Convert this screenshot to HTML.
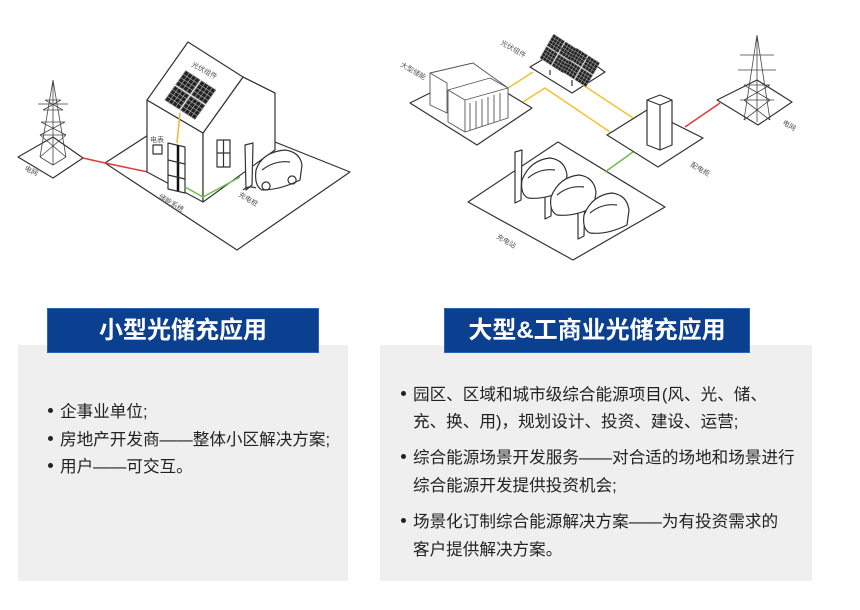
<!DOCTYPE html>
<html><head><meta charset="utf-8"><style>
body{margin:0;width:860px;height:610px;background:#fff;font-family:"Liberation Sans","Noto Sans CJK SC",sans-serif;position:relative;overflow:hidden}
.gray{position:absolute;background:#efeff0}
.title{position:absolute;background:#0b3f8f;color:#fff;font-weight:bold;font-size:24px;text-align:center;line-height:44px;border:1px solid #2a63b8;box-sizing:border-box;white-space:nowrap}
.li{position:absolute;font-size:16.6px;color:#222;white-space:nowrap}
.li:before{content:"";position:absolute;left:-12px;top:10px;width:5px;height:5px;border-radius:50%;background:#222}
.ln{position:absolute;font-size:16.6px;color:#222;white-space:nowrap}
svg{position:absolute;left:0;top:0}
</style></head><body>
<svg width="860" height="300" viewBox="0 0 860 300" fill="none" stroke="#333" stroke-width="1.2" stroke-linejoin="round">
<defs>
<g id="mod"><rect width="20" height="20" fill="#222" stroke="#777" stroke-width="1"/><path d="M5,0V20M10,0V20M15,0V20M0,5H20M0,10H20M0,15H20" stroke="#bbb" stroke-width="0.7"/></g>
</defs>
<!-- LEFT SCENE -->
<polygon points="105,163 190,108 350,172 237,250" fill="#fff"/>
<polygon points="18,157 53,137 83,158 53,178" fill="#fff"/>
<g stroke="#444" stroke-width="0.8">
<path d="M53,80 L40,157 M53,80 L66,157 M45,100 L61,100 M43,110 L63,110 M41,122 L65,122 M40,135 L66,135 M45,100 L63,110 M61,100 L43,110 M41,122 L66,135 M65,122 L40,135 M40,135 L66,157 M66,135 L40,157 M40,157 L53,165 L66,157 M53,80 L53,165 M38,104 L68,104"/>
</g>
<path d="M83,158 L105,163 L148,172 L153,170 L153,153 L160,153" stroke="#e03a3a" stroke-width="1.5"/>
<!-- house -->
<polygon points="147,100 203,133 203,202 147,172" fill="#fff"/>
<polygon points="203,133 243,77 275,93 275,150 203,202" fill="#fff"/>
<polygon points="147,100 188,42 243,77 203,133" fill="#fff"/>
<path d="M243,77 L275,93"/>
<g transform="matrix(0.84,0.54,0.58,-0.82,165,100) scale(0.85)">
<use href="#mod" x="0" y="0"/><use href="#mod" x="22" y="0"/><use href="#mod" x="0" y="22"/><use href="#mod" x="22" y="22"/>
</g>
<path d="M180,113 L177,143" stroke="#f2b632" stroke-width="1.5"/>
<rect x="153" y="145" width="9" height="9" fill="#fff"/>
<polygon points="168,143 185,147 185,193 168,189" fill="#fff"/>
<path d="M178,145 L178,191" stroke="#111" stroke-width="2.5"/>
<path d="M168,160 L185,164 M168,175 L185,179"/>
<path d="M185,187 L203,197 L240,177" stroke="#6cc04a" stroke-width="1.5"/>
<rect x="217" y="140" width="13" height="27" fill="#fff"/>
<path d="M223.5,140 V167 M217,153 H230"/>
<path d="M245,145 L253,143 L252,185 L246,190 Z" fill="#fff"/>
<path d="M243,190 Q248,185 256,188"/>
<path d="M256,170 Q262,152 285,150 Q300,152 302,165 L300,180 Q280,190 262,190 Q254,186 256,170 Z" fill="#fff"/>
<path d="M262,170 Q275,160 290,162 M266,182 a4,4 0 1 0 0.1,0 M292,176 a4,4 0 1 0 0.1,0"/>
<g font-size="7" fill="#555" stroke="none" font-family="Liberation Sans,Noto Sans CJK SC,sans-serif">
<text x="191" y="66" transform="rotate(28 191 66)">光伏组件</text>
<text x="150" y="142">电表</text>
<text x="24" y="170" transform="rotate(25 24 170)">电网</text>
<text x="158" y="198" transform="rotate(30 158 198)">储能系统</text>
<text x="238" y="196" transform="rotate(30 238 196)">充电桩</text>
</g>
<!-- RIGHT SCENE -->
<polygon points="410,103 472,72 532,108 477,145" fill="#fff"/>
<polygon points="530,67 567,45 605,72 572,93" fill="#fff"/>
<polygon points="607,135 647,110 703,138 658,167" fill="#fff"/>
<polygon points="717,100 757,80 792,102 758,125" fill="#fff"/>
<polygon points="468,202 558,142 665,207 573,260" fill="#fff"/>
<path d="M508,88 L533,72 M523,102 L545,88 L610,132 M583,85 L633,118" stroke="#f2c232" stroke-width="1.5"/>
<path d="M685,127 L720,103" stroke="#e03a3a" stroke-width="1.5"/>
<path d="M605,172 L633,152" stroke="#6cc04a" stroke-width="1.5"/>
<!-- containers -->
<g fill="#fff" stroke="#555" stroke-width="0.9">
<polygon points="430,73 473,63 508,88 508,100 447,113 430,105"/>
<polygon points="448,90 490,78 508,88 508,118 465,132 448,122"/>
<path d="M448,90 L465,100 L508,88 M465,100 V132 M430,73 L447,83 V113"/>
<path d="M470,103 V130 M476,101 V128 M482,99 V126 M488,97 V124 M494,95 V122 M500,93 V120"/>
</g>
<!-- solar -->
<path d="M550,70 V75 M572,80 V86"/>
<g transform="matrix(0.84,0.54,0.5,-0.87,540,58) scale(0.65)">
<use href="#mod" x="0" y="0"/><use href="#mod" x="22" y="0"/><use href="#mod" x="0" y="22"/><use href="#mod" x="22" y="22"/>
</g>
<g transform="matrix(0.84,0.54,0.5,-0.87,563,72) scale(0.65)">
<use href="#mod" x="0" y="0"/><use href="#mod" x="22" y="0"/><use href="#mod" x="0" y="22"/><use href="#mod" x="22" y="22"/>
</g>
<!-- cabinet -->
<polygon points="647,100 660,95 672,100 672,145 660,150 647,145" fill="#fff"/>
<path d="M647,100 L660,105 L672,100 M660,105 V150"/>
<!-- tower -->
<g stroke="#444" stroke-width="0.8">
<path d="M757,35 L744,120 M757,35 L770,120 M740,55 L774,55 M738,70 L776,70 M744,85 L770,85 M740,100 L774,100 M744,85 L770,100 M770,85 L744,100 M744,100 L770,120 M770,100 L744,120 M757,35 V122"/>
</g>
<!-- chargers and cars -->
<g fill="#fff">
<path d="M515,152 L522,150 L521,200 L515,203 Z"/>
<path d="M545,168 L552,166 L551,216 L545,219 Z"/>
<path d="M578,188 L585,186 L584,236 L578,239 Z"/>
<path d="M522,180 Q530,160 550,158 Q565,160 567,175 L565,190 Q545,200 528,198 Q520,194 522,180 Z"/>
<path d="M551,197 Q559,177 579,175 Q594,177 596,192 L594,207 Q574,217 557,215 Q549,211 551,197 Z"/>
<path d="M584,215 Q592,195 612,193 Q627,195 629,210 L627,225 Q607,235 590,233 Q582,229 584,215 Z"/>
<path d="M528,178 Q540,168 555,170 M557,195 Q569,185 584,187 M590,213 Q602,203 617,205"/>
</g>
<g font-size="7" fill="#555" stroke="none" font-family="Liberation Sans,Noto Sans CJK SC,sans-serif">
<text x="400" y="66" transform="rotate(30 400 66)">大型储能</text>
<text x="500" y="44" transform="rotate(30 500 44)">光伏组件</text>
<text x="690" y="166" transform="rotate(30 690 166)">配电柜</text>
<text x="782" y="124" transform="rotate(30 782 124)">电网</text>
<text x="496" y="238" transform="rotate(30 496 238)">充电站</text>
</g>
</svg>

<div class="gray" style="left:18px;top:345px;width:330px;height:236px"></div>
<div class="gray" style="left:380px;top:345px;width:432px;height:236px"></div>
<div class="title" style="left:47px;top:308px;width:272px;height:45px">小型光储充应用</div>
<div class="title" style="left:444px;top:308px;width:306px;height:45px">大型&amp;工商业光储充应用</div>

<div class="li" style="left:60px;top:398px">企事业单位;</div>
<div class="li" style="left:60px;top:426px">房地产开发商——整体小区解决方案;</div>
<div class="li" style="left:60px;top:453px">用户——可交互。</div>

<div class="li" style="left:413px;top:381px">园区、区域和城市级综合能源项目(风、光、储、</div>
<div class="ln" style="left:413px;top:408px">充、换、用)，规划设计、投资、建设、运营;</div>
<div class="li" style="left:413px;top:444px">综合能源场景开发服务——对合适的场地和场景进行</div>
<div class="ln" style="left:413px;top:472px">综合能源开发提供投资机会;</div>
<div class="li" style="left:413px;top:508px">场景化订制综合能源解决方案——为有投资需求的</div>
<div class="ln" style="left:413px;top:536px">客户提供解决方案。</div>
</body></html>
